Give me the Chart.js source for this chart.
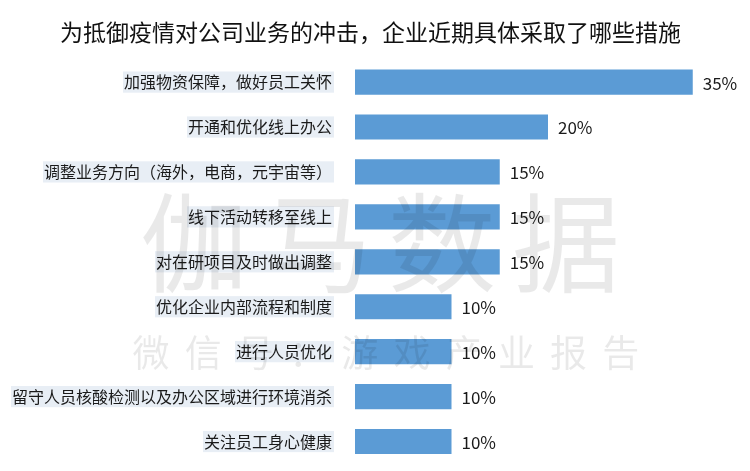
<!DOCTYPE html>
<html>
<head>
<meta charset="utf-8">
<script src="https://cdn.jsdelivr.net/npm/chart.js@4"></script>
<style>
  html, body { margin: 0; padding: 0; background: #fff; }
  #wrap { width: 750px; height: 471px; }
</style>
</head>
<body>
<div id="wrap"><canvas id="grafico"></canvas></div>
<script>
const titulo = "为抵御疫情对公司业务的冲击，企业近期具体采取了哪些措施";
const categorias = [
  "加强物资保障，做好员工关怀",
  "开通和优化线上办公",
  "调整业务方向（海外，电商，元宇宙等）",
  "线下活动转移至线上",
  "对在研项目及时做出调整",
  "优化企业内部流程和制度",
  "进行人员优化",
  "留守人员核酸检测以及办公区域进行环境消杀",
  "关注员工身心健康",
];
const valores = [35, 20, 15, 15, 15, 10, 10, 10, 10];
const marcaAgua = "伽马数据";
const marcaAguaSub = "微信号：游戏产业报告";

const fuente = '"Microsoft YaHei", "Noto Sans CJK SC", sans-serif';

// etiquetas de porcentaje al final de cada barra
const etiquetasValor = {
  id: "etiquetasValor",
  afterDatasetsDraw(chart) {
    const { ctx } = chart;
    const meta = chart.getDatasetMeta(0);
    ctx.save();
    ctx.font = `17px ${fuente}`;
    ctx.fillStyle = "#1a1a1a";
    ctx.textBaseline = "middle";
    ctx.textAlign = "left";
    meta.data.forEach((bar, i) => {
      ctx.fillText(`${valores[i]}%`, bar.x + 10, bar.y + 1);
    });
    ctx.restore();
  },
};

// marca de agua semitransparente encima de todo
const marcaDeAgua = {
  id: "marcaDeAgua",
  afterDraw(chart) {
    const { ctx } = chart;
    ctx.save();
    ctx.fillStyle = "rgba(0,0,0,0.085)";
    ctx.textBaseline = "middle";
    ctx.textAlign = "center";
    ctx.font = `108px ${fuente}`;
    [...marcaAgua].forEach((c, i) => ctx.fillText(c, 194 + i * 124, 243));
    ctx.font = `37px ${fuente}`;
    [...marcaAguaSub].forEach((c, i) => ctx.fillText(c, 151 + i * 52.2, 353));
    ctx.restore();
  },
};

const config = {
  type: "bar",
  data: {
    labels: categorias,
    datasets: [
      {
        data: valores,
        backgroundColor: "#5b9bd5",
        borderWidth: 0,
        barPercentage: 0.56,
        categoryPercentage: 1,
      },
    ],
  },
  options: {
    indexAxis: "y",
    responsive: true,
    maintainAspectRatio: false,
    animation: false,
    layout: { padding: { left: 0, right: 9, top: 0, bottom: 7 } },
    plugins: {
      legend: { display: false },
      tooltip: { enabled: false },
      title: {
        display: true,
        text: titulo,
        color: "#111",
        font: { family: fuente, size: 23, weight: "normal" },
        padding: { top: 18, bottom: 14 },
      },
    },
    scales: {
      x: { display: false, min: 0, max: 40 },
      y: {
        afterFit(scale) {
          scale.width = 355;
          scale.paddingTop = 0;
          scale.paddingBottom = 0;
        },
        grid: { display: false },
        border: { display: false },
        ticks: {
          color: "#1a1a1a",
          font: { family: fuente, size: 16 },
          padding: 15,
          showLabelBackdrop: true,
          backdropColor: "#e8eef5",
          backdropPadding: { top: 1, bottom: 1, left: 1, right: 2 },
        },
      },
    },
  },
  plugins: [etiquetasValor, marcaDeAgua],
};

new Chart(document.getElementById("grafico"), config);
</script>
</body>
</html>
